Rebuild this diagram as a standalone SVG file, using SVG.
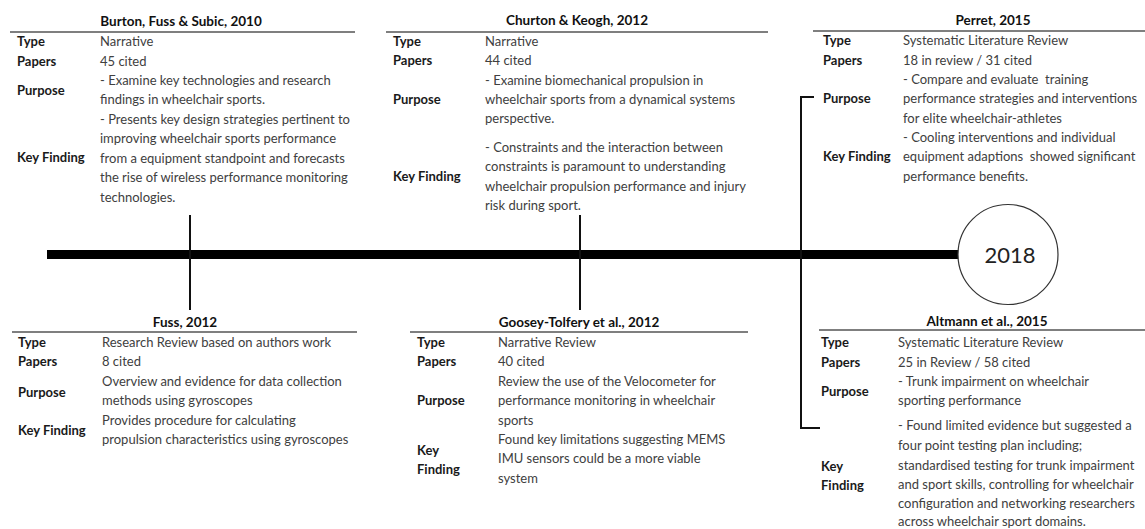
<svg xmlns="http://www.w3.org/2000/svg" width="1145" height="529" viewBox="0 0 1145 529">
<style>
text{font-family:Lato,"Liberation Sans",sans-serif;font-size:13px}
.t{font-weight:bold;font-size:13.5px;fill:#111;text-anchor:middle}
.l{font-weight:bold;fill:#1a1a1a}
.v{fill:#404040}
.u{stroke:#555;stroke-width:1.5;fill:none}
.c{stroke:#111;stroke-width:2;fill:none}
</style>
<rect width="1145" height="529" fill="#fff"/>
<g id="connectors">
<rect x="47" y="250" width="912" height="9" fill="#000"/>
<line class="c" x1="190" y1="215" x2="190" y2="310"/>
<line class="c" x1="580" y1="215" x2="580" y2="310"/>
<polyline class="c" points="814,97 801,97 801,428 820,428"/>
</g>
<g id="year2018">
<circle cx="1008" cy="254.5" r="50" fill="#fff" stroke="#333" stroke-width="1.2"/>
<text x="1010" y="263" style="font-size:22px;fill:#222;text-anchor:middle">2018</text>
</g>
<g id="burton2010">
<text class="t" x="181" y="26">Burton, Fuss &amp; Subic, 2010</text>
<line class="u" x1="10" y1="32" x2="355" y2="32"/>
<text class="l" x="17" y="46">Type</text>
<text class="l" x="17" y="66">Papers</text>
<text class="l" x="17" y="95">Purpose</text>
<text class="l" x="17" y="162">Key Finding</text>
<text class="v" x="100" y="46">Narrative</text>
<text class="v" x="100" y="66">45 cited</text>
<text class="v" x="100" y="85">- Examine key technologies and research</text>
<text class="v" x="100" y="104">findings in wheelchair sports.</text>
<text class="v" x="100" y="123.5">- Presents key design strategies pertinent to</text>
<text class="v" x="100" y="143">improving wheelchair sports performance</text>
<text class="v" x="100" y="162.5">from a equipment standpoint and forecasts</text>
<text class="v" x="100" y="182">the rise of wireless performance monitoring</text>
<text class="v" x="100" y="201.5">technologies.</text>
</g>
<g id="churton2012">
<text class="t" x="577" y="25">Churton &amp; Keogh, 2012</text>
<line class="u" x1="386" y1="32" x2="768" y2="32"/>
<text class="l" x="393" y="46">Type</text>
<text class="l" x="393" y="65">Papers</text>
<text class="l" x="393" y="104">Purpose</text>
<text class="l" x="393" y="181">Key Finding</text>
<text class="v" x="485" y="46">Narrative</text>
<text class="v" x="485" y="65">44 cited</text>
<text class="v" x="485" y="84.5">- Examine biomechanical propulsion in</text>
<text class="v" x="485" y="104">wheelchair sports from a dynamical systems</text>
<text class="v" x="485" y="123">perspective.</text>
<text class="v" x="485" y="151.5">- Constraints and the interaction between</text>
<text class="v" x="485" y="171">constraints is paramount to understanding</text>
<text class="v" x="485" y="190.5">wheelchair propulsion performance and injury</text>
<text class="v" x="485" y="210">risk during sport.</text>
</g>
<g id="perret2015">
<text class="t" x="993" y="25">Perret, 2015</text>
<line class="u" x1="813" y1="31" x2="1145" y2="31"/>
<text class="l" x="823" y="45">Type</text>
<text class="l" x="823" y="65">Papers</text>
<text class="l" x="823" y="103">Purpose</text>
<text class="l" x="823" y="161">Key Finding</text>
<text class="v" x="903" y="45">Systematic Literature Review</text>
<text class="v" x="903" y="65">18 in review / 31 cited</text>
<text class="v" x="903" y="84" xml:space="preserve">- Compare and evaluate  training</text>
<text class="v" x="903" y="103">performance strategies and interventions</text>
<text class="v" x="903" y="122.5">for elite wheelchair-athletes</text>
<text class="v" x="903" y="142">- Cooling interventions and individual</text>
<text class="v" x="903" y="161" xml:space="preserve">equipment adaptions  showed significant</text>
<text class="v" x="903" y="181">performance benefits.</text>
</g>
<g id="fuss2012">
<text class="t" x="185" y="327">Fuss, 2012</text>
<line class="u" x1="12" y1="332" x2="357" y2="332"/>
<text class="l" x="18" y="346.5">Type</text>
<text class="l" x="18" y="366">Papers</text>
<text class="l" x="18" y="396.5">Purpose</text>
<text class="l" x="18" y="434.5">Key Finding</text>
<text class="v" x="102" y="346.5">Research Review based on authors work</text>
<text class="v" x="102" y="366">8 cited</text>
<text class="v" x="102" y="385.5">Overview and evidence for data collection</text>
<text class="v" x="102" y="405">methods using gyroscopes</text>
<text class="v" x="102" y="424.5">Provides procedure for calculating</text>
<text class="v" x="102" y="444">propulsion characteristics using gyroscopes</text>
</g>
<g id="goosey2012">
<text class="t" x="579" y="327">Goosey-Tolfery et al., 2012</text>
<line class="u" x1="410" y1="332" x2="748" y2="332"/>
<text class="l" x="417" y="346.5">Type</text>
<text class="l" x="417" y="366">Papers</text>
<text class="l" x="417" y="405">Purpose</text>
<text class="l" x="417" y="454.5">Key</text>
<text class="l" x="417" y="474">Finding</text>
<text class="v" x="498" y="346.5">Narrative Review</text>
<text class="v" x="498" y="366">40 cited</text>
<text class="v" x="498" y="385.5">Review the use of the Velocometer for</text>
<text class="v" x="498" y="405">performance monitoring in wheelchair</text>
<text class="v" x="498" y="424.5">sports</text>
<text class="v" x="498" y="443.5">Found key limitations suggesting MEMS</text>
<text class="v" x="498" y="463">IMU sensors could be a more viable</text>
<text class="v" x="498" y="482.5">system</text>
</g>
<g id="altmann2015">
<text class="t" x="987" y="325.5">Altmann et al., 2015</text>
<line class="u" x1="819" y1="330" x2="1145" y2="330"/>
<text class="l" x="821" y="347">Type</text>
<text class="l" x="821" y="366.5">Papers</text>
<text class="l" x="821" y="396">Purpose</text>
<text class="l" x="821" y="470.5">Key</text>
<text class="l" x="821" y="490">Finding</text>
<text class="v" x="898" y="347">Systematic Literature Review</text>
<text class="v" x="898" y="366.5">25 in Review / 58 cited</text>
<text class="v" x="898" y="385.5">- Trunk impairment on wheelchair</text>
<text class="v" x="898" y="405">sporting performance</text>
<text class="v" x="898" y="430">- Found limited evidence but suggested a</text>
<text class="v" x="898" y="450">four point testing plan including;</text>
<text class="v" x="898" y="469.5">standardised testing for trunk impairment</text>
<text class="v" x="898" y="488.5">and sport skills, controlling for wheelchair</text>
<text class="v" x="898" y="507.5">configuration and networking researchers</text>
<text class="v" x="898" y="526">across wheelchair sport domains.</text>
</g>
</svg>
